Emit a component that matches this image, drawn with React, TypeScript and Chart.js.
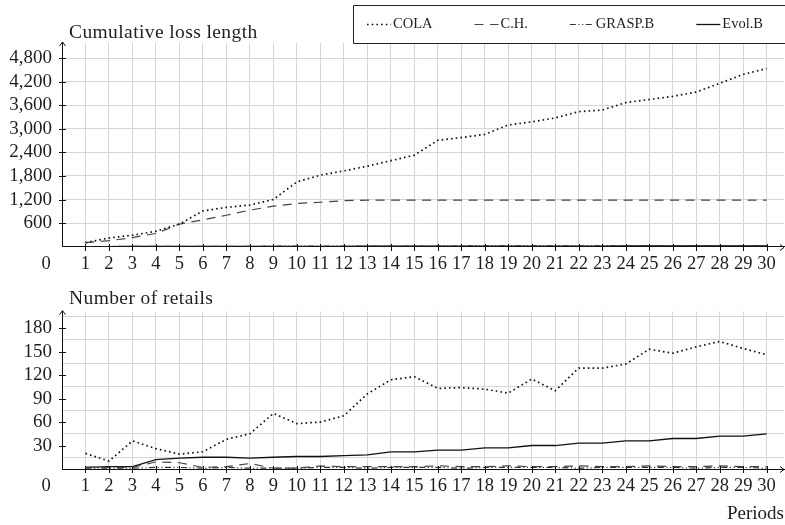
import React, { useEffect, useRef } from 'react';
import { Chart, registerables } from 'chart.js';

Chart.register(...registerables);

// ---------- data ----------
const periods = [1, 2, 3, 4, 5, 6, 7, 8, 9, 10, 11, 12, 13, 14, 15, 16, 17, 18, 19, 20, 21, 22, 23, 24, 25, 26, 27, 28, 29, 30];

const seriesNames = ['COLA', 'C.H.', 'GRASP.B', 'Evol.B'];

const lossCOLA = [100, 220, 290, 390, 575, 910, 1000, 1060, 1200, 1650, 1820, 1930, 2050, 2190, 2330, 2710, 2780, 2860, 3100, 3180, 3280, 3440, 3480, 3670, 3750, 3830, 3940, 4160, 4390, 4540];
const lossCH = [100, 150, 230, 335, 575, 680, 800, 930, 1030, 1100, 1130, 1170, 1185, 1185, 1185, 1185, 1185, 1185, 1185, 1185, 1185, 1185, 1185, 1185, 1185, 1185, 1185, 1185, 1185, 1185];
const lossGRASP = [2, 3, 4, 5, 6, 7, 8, 9, 10, 10, 11, 12, 13, 13, 14, 15, 16, 16, 17, 18, 19, 19, 20, 21, 21, 22, 23, 23, 24, 25];
const lossEvol = [1, 1, 2, 3, 4, 5, 5, 6, 7, 7, 8, 8, 9, 10, 10, 11, 11, 12, 12, 13, 13, 14, 14, 15, 15, 16, 16, 17, 17, 18];

const retailCOLA = [20, 10, 36, 26, 19, 22, 38, 45, 71, 58, 60, 68, 96, 114, 118, 103, 104, 102, 97, 115, 100, 129, 129, 134, 153, 148, 156, 163, 154, 146];
const retailCH = [2, 2, 2, 9, 8, 2, 3, 7, 1, 1, 4, 3, 3, 3, 3, 4, 3, 3, 4, 3, 3, 4, 3, 3, 4, 3, 3, 4, 3, 3];
const retailGRASP = [1, 1, 1, 2, 2, 1, 2, 1, 1, 1, 2, 2, 1, 2, 2, 2, 1, 2, 2, 2, 2, 1, 2, 2, 2, 2, 1, 2, 2, 1];
const retailEvol = [2, 3, 3, 12, 14, 15, 15, 14, 15, 16, 16, 17, 18, 22, 22, 24, 24, 27, 27, 30, 30, 33, 33, 36, 36, 39, 39, 42, 42, 45];

const lossTicks = [600, 1200, 1800, 2400, 3000, 3600, 4200, 4800];
const retailTicks = [30, 60, 90, 120, 150, 180];
const retailGridLines = [15, 45, 75, 105, 135, 165, 195];

const lossTitle = 'Cumulative loss length';
const retailTitle = 'Number of retails';
const xTitle = 'Periods';
const originLabel = '0';

// ---------- styling ----------
const TICK_FONT = { family: '"Liberation Serif", serif', size: 18.5 };
const TEXT_COLOR = '#1e1e1e';
const GRID_COLOR = '#d6d6d6';

const seriesStyles = [
  { borderColor: '#111', borderWidth: 1.7, borderDash: [1.6, 3.1] },
  { borderColor: '#444', borderWidth: 1.2, borderDash: [9, 6.5] },
  { borderColor: '#333', borderWidth: 1.2, borderDash: [6, 2.5, 1.2, 2.5, 1.2, 2.5] },
  { borderColor: '#111', borderWidth: 1.3, borderDash: [] as number[] },
];

function makeDatasets(values: number[][]) {
  return values.map((vals, i) => ({
    label: seriesNames[i],
    data: periods.map((p, j) => ({ x: p, y: vals[j] })),
    borderColor: seriesStyles[i].borderColor,
    borderWidth: seriesStyles[i].borderWidth,
    borderDash: seriesStyles[i].borderDash,
    pointRadius: 0,
    tension: 0,
    fill: false,
  }));
}

// decorations: crossing tick marks, arrows, axis title, origin label, legend
const decorPlugin = {
  id: 'decor',
  afterDraw(chart: any, _args: any, opts: any) {
    const ctx = chart.ctx as CanvasRenderingContext2D;
    const area = chart.chartArea;
    const xs = chart.scales.x;
    const ys = chart.scales[opts.labelAxis || 'y'];
    const axisY = Math.round(area.bottom) + 0.5;
    const axisX = Math.round(area.left) + 0.5;
    ctx.save();
    ctx.strokeStyle = '#111';
    ctx.lineWidth = 1;
    ctx.beginPath();
    xs.ticks.forEach((t: any) => {
      const px = Math.round(xs.getPixelForValue(t.value)) + 0.5;
      ctx.moveTo(px, axisY - 3.5);
      ctx.lineTo(px, axisY + 3.5);
    });
    ys.ticks.forEach((t: any) => {
      const py = Math.round(ys.getPixelForValue(t.value)) + 0.5;
      ctx.moveTo(axisX - 3.5, py);
      ctx.lineTo(axisX + 3.5, py);
    });
    ctx.stroke();
    ctx.beginPath();
    const topY = area.top - 1;
    ctx.moveTo(axisX, area.top);
    ctx.lineTo(axisX, topY);
    ctx.moveTo(axisX - 3, topY + 4);
    ctx.lineTo(axisX, topY);
    ctx.lineTo(axisX + 3, topY + 4);
    const rightX = area.right;
    ctx.moveTo(rightX - 4, axisY - 3);
    ctx.lineTo(rightX, axisY);
    ctx.lineTo(rightX - 4, axisY + 3);
    ctx.stroke();

    ctx.fillStyle = TEXT_COLOR;
    ctx.font = `${TICK_FONT.size}px ${TICK_FONT.family}`;
    ctx.textAlign = 'center';
    ctx.textBaseline = 'middle';
    ctx.fillText(originLabel, 46, opts.originY);

    ctx.font = `19.5px ${TICK_FONT.family}`;
    ctx.textAlign = 'left';
    ctx.textBaseline = 'alphabetic';
    (ctx as any).letterSpacing = '0.4px';
    ctx.fillText(opts.title, 69, opts.titleBaseline);
    (ctx as any).letterSpacing = '0px';

    if (opts.legend) {
      const lx = 353.5, ly = 5.5, lh = 38;
      ctx.fillStyle = '#fff';
      ctx.fillRect(lx, ly, 800 - lx, lh);
      ctx.strokeStyle = '#222';
      ctx.lineWidth = 1;
      ctx.beginPath();
      ctx.rect(lx, ly, 800 - lx, lh);
      ctx.stroke();
      ctx.font = `14.5px ${TICK_FONT.family}`;
      ctx.textBaseline = 'middle';
      ctx.textAlign = 'left';
      const cy = 24.5;
      let x = 367;
      chart.data.datasets.forEach((ds: any) => {
        const sample = 24;
        ctx.save();
        ctx.strokeStyle = ds.borderColor;
        ctx.lineWidth = ds.borderWidth;
        ctx.setLineDash(ds.borderDash || []);
        ctx.beginPath();
        ctx.moveTo(x, cy);
        ctx.lineTo(x + sample, cy);
        ctx.stroke();
        ctx.restore();
        ctx.fillStyle = TEXT_COLOR;
        const tx = x + sample + 2;
        ctx.fillText(ds.label, tx, cy);
        x = tx + ctx.measureText(ds.label).width + 42;
      });
    }
    ctx.restore();
  },
};

function xScale(extra: any = {}) {
  return {
    type: 'linear',
    min: 0,
    max: 30.74,
    afterBuildTicks: (s: any) => {
      s.ticks = periods.map((v) => ({ value: v }));
    },
    grid: { color: GRID_COLOR, lineWidth: 1, drawTicks: false },
    border: { display: true, color: '#111', width: 1 },
    ticks: {
      font: TICK_FONT,
      color: TEXT_COLOR,
      padding: 6,
      maxRotation: 0,
      autoSkip: false,
      callback: (v: any) => String(v),
    },
    ...extra,
  };
}

function TopChart() {
  const ref = useRef<HTMLCanvasElement>(null);
  useEffect(() => {
    const chart = new Chart(ref.current as HTMLCanvasElement, {
      type: 'line',
      data: { datasets: makeDatasets([lossCOLA, lossCH, lossGRASP, lossEvol]) as any },
      options: {
        responsive: false,
        animation: false,
        layout: { padding: { top: 43, right: 1, left: 0, bottom: 0 } },
        plugins: {
          legend: { display: false },
          tooltip: { enabled: false },
          decor: { title: lossTitle, titleBaseline: 38.3, originY: 263.8, legend: true, labelAxis: 'y' },
        } as any,
        scales: {
          x: xScale({ afterFit: (s: any) => { s.height = 23.4; } }) as any,
          y: {
            type: 'linear',
            min: 0,
            max: 5190,
            afterBuildTicks: (s: any) => {
              s.ticks = lossTicks.map((v) => ({ value: v }));
            },
            afterFit: (s: any) => { s.width = 62; },
            grid: { color: GRID_COLOR, lineWidth: 1, drawTicks: false },
            border: { display: true, color: '#111', width: 1 },
            ticks: {
              font: { family: TICK_FONT.family, size: 19 },
              color: TEXT_COLOR,
              padding: 10,
              callback: (v: any) => Number(v).toLocaleString('en-US'),
            },
          } as any,
        },
      },
      plugins: [decorPlugin as any],
    });
    return () => chart.destroy();
  }, []);
  return <canvas ref={ref} width={785} height={270} style={{ position: 'absolute', left: 0, top: 0, display: 'block' }} />;
}

function BottomChart() {
  const ref = useRef<HTMLCanvasElement>(null);
  useEffect(() => {
    const chart = new Chart(ref.current as HTMLCanvasElement, {
      type: 'line',
      data: { datasets: makeDatasets([retailCOLA, retailCH, retailGRASP, retailEvol]) as any },
      options: {
        responsive: false,
        animation: false,
        layout: { padding: { top: 41.7, right: 1, left: 0, bottom: 0 } },
        plugins: {
          legend: { display: false },
          tooltip: { enabled: false },
          decor: { title: retailTitle, titleBaseline: 34, originY: 216, legend: false, labelAxis: 'yl' },
        } as any,
        scales: {
          x: xScale({
            afterFit: (s: any) => { s.height = 56; },
            title: {
              display: true,
              text: xTitle,
              align: 'end',
              color: TEXT_COLOR,
              font: { family: TICK_FONT.family, size: 19 },
              padding: { top: 0, bottom: 0 },
            },
          }) as any,
          y: {
            type: 'linear',
            position: 'left',
            min: 0,
            max: 201,
            afterBuildTicks: (s: any) => {
              s.ticks = retailGridLines.map((v) => ({ value: v }));
            },
            afterFit: (s: any) => { s.width = 0; },
            grid: { color: GRID_COLOR, lineWidth: 1, drawTicks: false },
            border: { display: false },
            ticks: { display: false },
          } as any,
          yl: {
            type: 'linear',
            position: 'left',
            min: 0,
            max: 201,
            afterBuildTicks: (s: any) => {
              s.ticks = retailTicks.map((v) => ({ value: v }));
            },
            afterFit: (s: any) => { s.width = 62; },
            grid: { display: false, drawTicks: false },
            border: { display: true, color: '#111', width: 1 },
            ticks: {
              font: { family: TICK_FONT.family, size: 19 },
              color: TEXT_COLOR,
              padding: 10,
              callback: (v: any) => String(v),
            },
          } as any,
        },
      },
      plugins: [decorPlugin as any],
    });
    return () => chart.destroy();
  }, []);
  return <canvas ref={ref} width={785} height={255} style={{ position: 'absolute', left: 0, top: 270, display: 'block' }} />;
}

export default function App() {
  return (
    <div style={{ position: 'absolute', left: 0, top: 0, width: 785, height: 525, background: '#fff' }}>
      <TopChart />
      <BottomChart />
    </div>
  );
}
